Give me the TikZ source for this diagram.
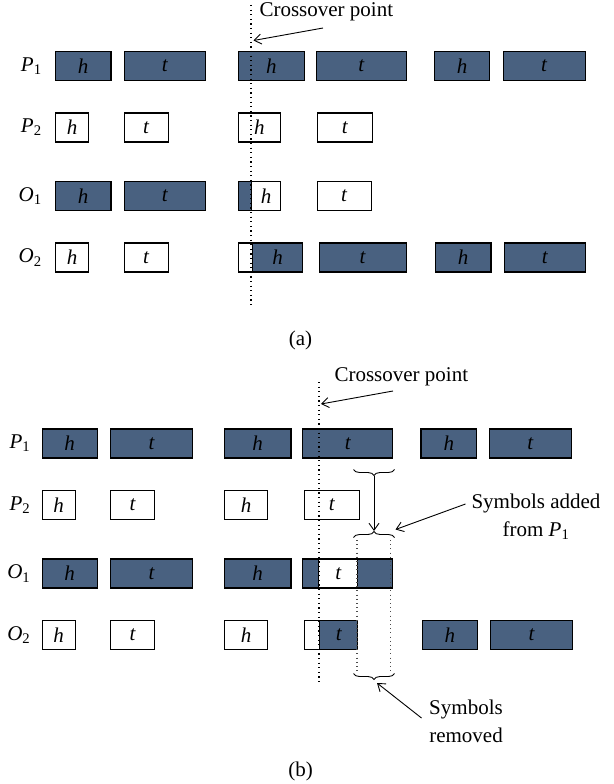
\documentclass[tikz,border=0pt]{standalone}
\usepackage{fontspec}
\setmainfont{Liberation Serif}
\usetikzlibrary{arrows.meta,positioning,decorations.pathreplacing}
\tikzset {>={Straight Barb[length=7pt,width=10pt]}}
\definecolor{chrom}{RGB}{73,97,128}

\begin{document}
\begin{tikzpicture}[x=1pt,y=-1pt,
  every node/.style={font=\fontsize{21}{28}\selectfont},
  cell/.style={draw,line width=1.1pt,minimum height=29pt,inner sep=0pt,anchor=west,
    font=\fontsize{21}{28}\selectfont\itshape},
  rowlabel/.style={anchor=east,inner sep=0pt},
  cut/.style={dash pattern=on 1.2pt off 3.4pt,line width=1.3pt},
  span/.style={dash pattern=on 1pt off 3.2pt,line width=1.1pt,black!70},
  curly/.style={decorate,decoration={brace,amplitude=6pt},line width=0.9pt},
  pointer/.style={->,line width=0.9pt}]
\useasboundingbox (0,0) rectangle (613,784);

% (a)
\foreach \x/\w/\s [count=\i] in
  {54.8/55.6/h,123.7/81/t,237.6/66.4/h,315.9/89.6/t,433.7/55.6/h,502.5/82/t}
  \node[cell,fill=chrom,minimum width=\w pt] (aP1-\i) at (\x,66) {\s};
\foreach \x/\w/\s [count=\i] in
  {54.8/33.3/h,123.7/43.8/t,237.6/42.4/h,316.6/55.4/t}
  \node[cell,fill=white,minimum width=\w pt] (aP2-\i) at (\x,127.5) {\s};
\foreach \x/\w/\s/\c [count=\i] in
  {54.8/55.6/h/chrom,123.7/81/t/chrom,237.6/13.6//chrom,251.2/28.8/h/white,316.6/54/t/white}
  \node[cell,fill=\c,minimum width=\w pt] (aO1-\i) at (\x,196) {\s};
\foreach \x/\w/\s/\c [count=\i] in
  {54.8/33.3/h/white,123.7/43.8/t/white,237.6/14.4//white,252/50/h/chrom,
   318.6/87/t/chrom,434.8/55.6/h/chrom,503.7/81.3/t/chrom}
  \node[cell,fill=\c,minimum width=\w pt] (aO2-\i) at (\x,257.5) {\s};

\node[rowlabel,left=13pt of aP1-1] (aP1) {\textit{P}\textsubscript{1}};
\node[rowlabel,left=13pt of aP2-1] (aP2) {\textit{P}\textsubscript{2}};
\node[rowlabel,left=13pt of aO1-1] (aO1) {\textit{O}\textsubscript{1}};
\node[rowlabel,left=13pt of aO2-1] (aO2) {\textit{O}\textsubscript{2}};

\draw[cut] (251,5) -- (251,308);
\node[anchor=west] (cpa) at (256,12) {Crossover point};
\coordinate (cpa-from) at (323,28);
\coordinate (cpa-to) at (253.5,40.5);
\draw[pointer] (cpa-from) -- (cpa-to);

\node (capa) at (300.5,340) {(a)};

% (b)
\foreach \x/\w/\s [count=\i] in
  {41.5/55.2/h,110/81.8/t,223.9/66.5/h,302.2/90/t,420.4/55.9/h,488.8/81.8/t}
  \node[cell,fill=chrom,minimum width=\w pt] (bP1-\i) at (\x,443.5) {\s};
\foreach \x/\w/\s [count=\i] in
  {41.5/33.3/h,110/44.2/t,223.9/43.1/h,303.7/55.2/t}
  \node[cell,fill=white,minimum width=\w pt] (bP2-\i) at (\x,505) {\s};
\foreach \x/\w/\s/\c [count=\i] in
  {41.5/55.2/h/chrom,110/81.8/t/chrom,223.9/66.5/h/chrom,302.2/16//chrom,
   318.2/39.1/t/white,357.3/34.9//chrom}
  \node[cell,fill=\c,minimum width=\w pt] (bO1-\i) at (\x,573.5) {\s};
\foreach \x/\w/\s/\c [count=\i] in
  {41.5/33.3/h/white,110/44.2/t/white,223.9/43.1/h/white,303.7/15.3//white,
   319/38.3/t/chrom,421.5/55.5/h/chrom,490/81.8/t/chrom}
  \node[cell,fill=\c,minimum width=\w pt] (bO2-\i) at (\x,635) {\s};

\node[rowlabel,left=11pt of bP1-1] (bP1) {\textit{P}\textsubscript{1}};
\node[rowlabel,left=11pt of bP2-1] (bP2) {\textit{P}\textsubscript{2}};
\node[rowlabel,left=11pt of bO1-1] (bO1) {\textit{O}\textsubscript{1}};
\node[rowlabel,left=11pt of bO2-1] (bO2) {\textit{O}\textsubscript{2}};

\draw[cut] (319,382) -- (319,683);
\node[anchor=west] (cpb) at (331,377) {Crossover point};
\coordinate (cpb-from) at (393,391);
\coordinate (cpb-to) at (321,404);
\draw[pointer] (cpb-from) -- (cpb-to);

\path
  (353.5,469.5) coordinate (up-l) --
  (394.5,469.5) coordinate (up-r)
  (353.5,537.5) coordinate (mid-l) --
  (394.5,537.5) coordinate (mid-r)
  (353.5,673.5) coordinate (low-l) --
  (394.5,673.5) coordinate (low-r)
  (374,476) coordinate (up-tip)
  (374,531) coordinate (mid-tip)
  (375,680.5) coordinate (low-tip);

\draw[curly] (up-r) -- (up-l);
\draw[curly] (mid-l) -- (mid-r);
\draw[curly] (low-r) -- (low-l);
\draw[pointer] (up-tip) -- (mid-tip);
\draw[span] (357,540) -- (357,671);
\draw[span] (390.5,540) -- (390.5,671);

\node[align=center] (added) at (536,517) {Symbols added\\from \textit{P}\textsubscript{1}};
\coordinate (added-from) at (465.5,504);
\coordinate (added-to) at (395.5,529.5);
\draw[pointer] (added-from) -- (added-to);

\node[align=center] (removed) at (466,721) {Symbols\\removed};
\coordinate (removed-from) at (421.5,718);
\coordinate (removed-to) at (377,683);
\draw[pointer] (removed-from) -- (removed-to);

\node (capb) at (300.5,771.5) {(b)};
\end{tikzpicture}
\end{document}
